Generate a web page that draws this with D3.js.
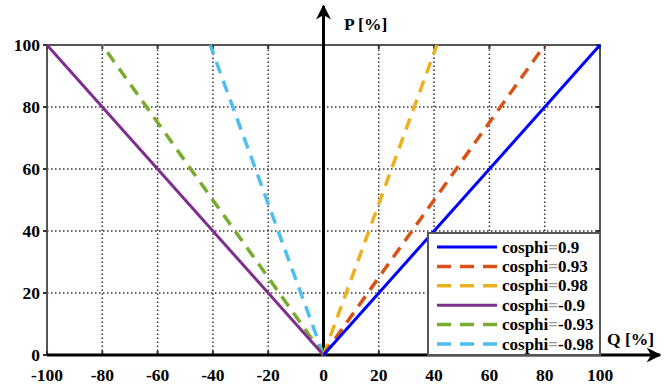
<!DOCTYPE html>
<html>
<head>
<meta charset="utf-8">
<script src="https://cdn.jsdelivr.net/npm/d3@7"></script>
<style>
  body { margin: 0; background: #fff; }
  svg text { font-family: "Liberation Serif", "DejaVu Serif", serif; font-weight: bold; }
</style>
</head>
<body>
<div id="chart"></div>
<script>
// Data: each curve runs from the origin to (Q, 100)
const seriesNames = ['0.9', '0.93', '0.98', '-0.9', '-0.93', '-0.98'];
const endQ = [100, 80, 41, -100, -80, -41];
const endP = [100, 100, 100, 100, 100, 100];
const seriesColors = ['#0000ff', '#d95319', '#edb120', '#7e2f8e', '#77ac30', '#4dbeee'];
const dashed = [false, true, true, false, true, true];
const xTicks = [-100, -80, -60, -40, -20, 0, 20, 40, 60, 80, 100];
const yTicks = [0, 20, 40, 60, 80, 100];

const W = 672, H = 388;
const x = d3.scaleLinear().domain([-100, 100]).range([47, 600]);
const y = d3.scaleLinear().domain([0, 100]).range([355, 45]);

const svg = d3.select('#chart').append('svg')
    .attr('width', W)
    .attr('height', H);

// dotted grid
svg.append('g')
    .selectAll('line')
    .data(xTicks.filter(d => d !== 0 && Math.abs(d) !== 100))
    .enter().append('line')
    .attr('x1', d => x(d)).attr('x2', d => x(d))
    .attr('y1', y(0)).attr('y2', y(100))
    .attr('stroke', '#333').attr('stroke-width', 1.5)
    .attr('stroke-dasharray', '1.5,2.5');

svg.append('g')
    .selectAll('line')
    .data(yTicks.filter(d => d !== 0 && d !== 100))
    .enter().append('line')
    .attr('x1', x(-100)).attr('x2', x(100))
    .attr('y1', d => y(d)).attr('y2', d => y(d))
    .attr('stroke', '#333').attr('stroke-width', 1.5)
    .attr('stroke-dasharray', '1.5,2.5');

// frame
svg.append('rect')
    .attr('x', x(-100)).attr('y', y(100))
    .attr('width', x(100) - x(-100)).attr('height', y(0) - y(100))
    .attr('fill', 'none').attr('stroke', '#555').attr('stroke-width', 2);

// small ticks on the frame
const tickLen = 4;
xTicks.forEach(t => {
    svg.append('line').attr('x1', x(t)).attr('x2', x(t))
        .attr('y1', y(100)).attr('y2', y(100) + tickLen)
        .attr('stroke', '#333').attr('stroke-width', 2);
    svg.append('line').attr('x1', x(t)).attr('x2', x(t))
        .attr('y1', y(0)).attr('y2', y(0) - tickLen)
        .attr('stroke', '#333').attr('stroke-width', 2);
});
yTicks.forEach(t => {
    svg.append('line').attr('x1', x(-100) - tickLen).attr('x2', x(-100))
        .attr('y1', y(t)).attr('y2', y(t))
        .attr('stroke', '#333').attr('stroke-width', 2);
    svg.append('line').attr('x1', x(100) - tickLen).attr('x2', x(100))
        .attr('y1', y(t)).attr('y2', y(t))
        .attr('stroke', '#333').attr('stroke-width', 2);
});

// tick labels
svg.append('g')
    .selectAll('text')
    .data(xTicks)
    .enter().append('text')
    .attr('x', d => x(d))
    .attr('y', 381)
    .attr('text-anchor', 'middle')
    .attr('font-size', 17.5)
    .text(d => d);

svg.append('g')
    .selectAll('text')
    .data(yTicks)
    .enter().append('text')
    .attr('x', 40)
    .attr('y', d => y(d) + 5.5)
    .attr('text-anchor', 'end')
    .attr('font-size', 17.5)
    .text(d => d);

// arrow axes
svg.append('defs').append('marker')
    .attr('id', 'arrow')
    .attr('viewBox', '0 0 10 10')
    .attr('refX', 9).attr('refY', 5)
    .attr('markerWidth', 5).attr('markerHeight', 5)
    .attr('markerUnits', 'strokeWidth')
    .attr('orient', 'auto')
    .append('path')
    .attr('d', 'M0,0 L10,5 L0,10 L3,5 Z')
    .attr('fill', '#000');

svg.append('line')
    .attr('x1', x(-100)).attr('x2', 660)
    .attr('y1', y(0)).attr('y2', y(0))
    .attr('stroke', '#000').attr('stroke-width', 3)
    .attr('marker-end', 'url(#arrow)');

svg.append('line')
    .attr('x1', x(0)).attr('x2', x(0))
    .attr('y1', y(0)).attr('y2', 6)
    .attr('stroke', '#000').attr('stroke-width', 3)
    .attr('marker-end', 'url(#arrow)');

svg.append('text')
    .attr('x', 344).attr('y', 30)
    .attr('font-size', 17.5)
    .text('P [%]');

svg.append('text')
    .attr('x', 607).attr('y', 345)
    .attr('font-size', 17.5)
    .text('Q [%]');

// curves
const line = d3.line().x(d => x(d[0])).y(d => y(d[1]));
const curves = seriesNames.map((n, i) => ({
    name: n, color: seriesColors[i], dashed: dashed[i],
    pts: [[0, 0], [endQ[i], endP[i]]]
}));

svg.append('g')
    .selectAll('path')
    .data(curves.slice().reverse())
    .enter().append('path')
    .attr('d', d => line(d.pts))
    .attr('fill', 'none')
    .attr('stroke', d => d.color)
    .attr('stroke-width', d => d.dashed ? 3.5 : 3)
    .attr('stroke-dasharray', d => d.dashed ? '12,8' : null);

// legend
const lg = svg.append('g');
lg.append('rect')
    .attr('x', 428).attr('y', 233)
    .attr('width', x(100) - 428).attr('height', y(0) - 233)
    .attr('fill', '#fff').attr('stroke', '#555').attr('stroke-width', 2);

const rows = lg.selectAll('g')
    .data(curves)
    .enter().append('g')
    .attr('transform', (d, i) => `translate(0,${247 + i * 19.4})`);

rows.append('line')
    .attr('x1', 437).attr('x2', 497)
    .attr('y1', 0).attr('y2', 0)
    .attr('stroke', d => d.color)
    .attr('stroke-width', d => d.dashed ? 3.5 : 3)
    .attr('stroke-dasharray', d => d.dashed ? '14,9' : null);

const txt = rows.append('text')
    .attr('x', 502).attr('y', 5.5)
    .attr('font-size', 17);
txt.append('tspan').text('cosphi');
txt.append('tspan').attr('fill', '#999').text('=');
txt.append('tspan').text(d => d.name);
</script>
</body>
</html>
